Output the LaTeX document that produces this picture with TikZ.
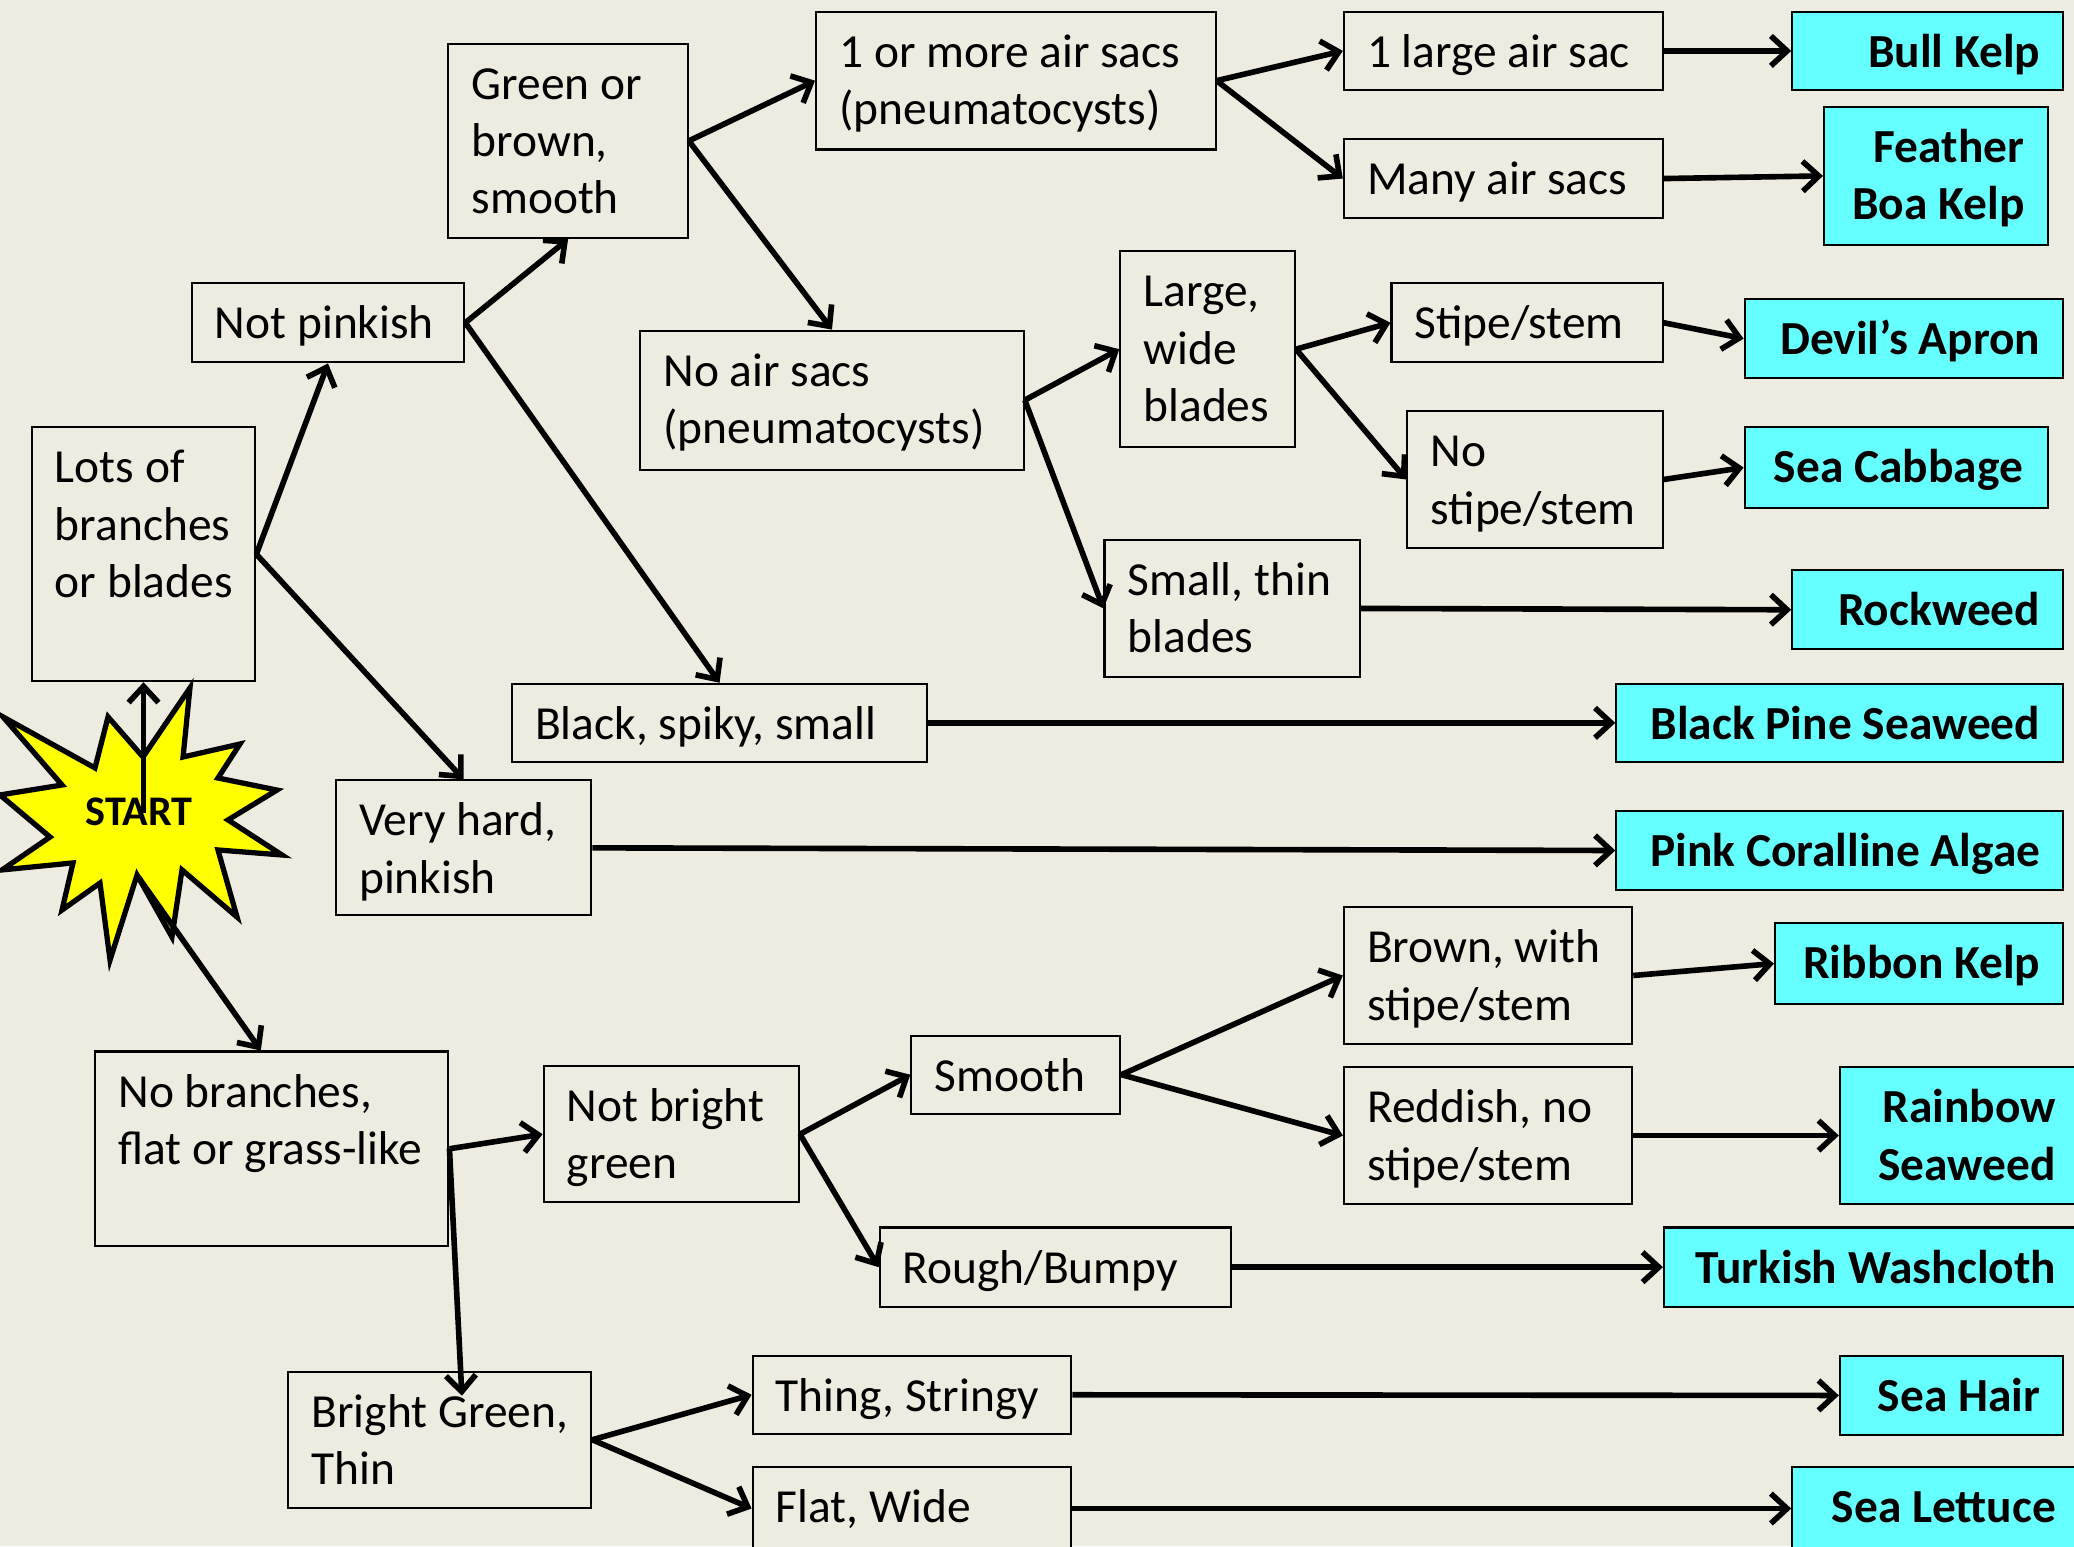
\documentclass[tikz,border=0pt]{standalone}
\usepackage{fontspec}
\setmainfont{Carlito}
\usetikzlibrary{arrows.meta,fit,calc}

\definecolor{paper}{HTML}{EEECE1}
\definecolor{kelp}{HTML}{66FFFF}
\definecolor{burst}{HTML}{FFFF00}

\tikzset{
  qbox/.style={draw=black, line width=0.6pt, fill=paper, inner sep=0pt},
  abox/.style={draw=black, line width=0.6pt, fill=kelp, inner sep=0pt},
  qtext/.style={inner sep=0pt, anchor=base west, font=\fontsize{13.5}{16.3}\selectfont},
  atext/.style={inner sep=0pt, anchor=base east, font=\fontsize{13.5}{16.3}\selectfont\bfseries},
  link/.style={line width=1.6pt, -{Straight Barb[length=4.6pt,width=8.5pt]}},
}

% question box: name, x1, y1, x2, y2, text (top-left aligned)
\newcommand\questionbox[6]{%
  \node[qbox, fit={(#2,#3) (#4,#5)}] (#1) {};
  \node[qtext] (#1-t) at (#2+17,#3+42) {\parbox[t]{10cm}{\raggedright #6}};
}
% answer box: name, x1, y1, x2, y2, right inset, text (top-right aligned)
\newcommand\answerbox[7]{%
  \node[abox, fit={(#2,#3) (#4,#5)}] (#1) {};
  \node[atext] (#1-t) at (#4-#6,#3+42) {\parbox[t]{10cm}{\raggedleft #7}};
}

\begin{document}
\begin{tikzpicture}[x=0.0132270cm, y=-0.0132270cm]
\useasboundingbox (0,0) rectangle (1568,1169);
\fill[paper] (0,0) rectangle (1568,1169);
\clip (0,0) rectangle (1568,1169);

% ---- decision boxes ----
\questionbox{lots}{24}{323}{193}{515}{Lots of\\branches\\or blades}
\questionbox{notpink}{145}{214}{351}{274}{Not pinkish}
\questionbox{green}{339}{33}{520}{180}{Green or\\brown,\\smooth}
\questionbox{airsacs}{617}{9}{919}{113}{1 or more air sacs\\(pneumatocysts)}
\questionbox{onesac}{1016}{9}{1257}{68}{1 large air sac}
\questionbox{manysacs}{1016}{105}{1257}{165}{Many air sacs}
\questionbox{noair}{484}{250}{774}{355}{No air sacs\\(pneumatocysts)}
\questionbox{largewide}{847}{190}{979}{338}{Large,\\wide\\blades}
\questionbox{stipe}{1052}{214}{1257}{274}{Stipe/stem}
\questionbox{nostipe}{1064}{311}{1257}{414}{No\\stipe/stem}
\questionbox{smallthin}{835}{408}{1028}{512}{Small, thin\\blades}
\questionbox{black}{387}{517}{701}{576}{Black, spiky, small}
\questionbox{veryhard}{254}{590}{447}{692}{Very hard,\\pinkish}
\questionbox{nobranch}{72}{795}{339}{942}{No branches,\\flat or grass-like}
\questionbox{notbright}{411}{806}{604}{909}{Not bright\\green}
\questionbox{smooth}{689}{783}{847}{842}{Smooth}
\questionbox{brownstipe}{1016}{686}{1234}{789}{Brown, with\\stipe/stem}
\questionbox{reddish}{1016}{807}{1234}{910}{Reddish, no\\stipe/stem}
\questionbox{rough}{665}{928}{931}{988}{Rough/Bumpy}
\questionbox{bright}{218}{1037}{447}{1140}{Bright Green,\\Thin}
\questionbox{stringy}{569}{1025}{810}{1084}{Thing, Stringy}
\questionbox{flatwide}{569}{1109}{810}{1172}{Flat, Wide}

% ---- seaweed names ----
\answerbox{bull}{1355}{9}{1560}{68}{17}{Bull Kelp}
\answerbox{boa}{1379}{81}{1548}{185}{17}{Feather\\Boa Kelp}
\answerbox{devil}{1319}{226}{1560}{286}{17}{Devil’s Apron}
\answerbox{cabbage}{1319}{323}{1548}{384}{18}{Sea Cabbage}
\answerbox{rockweed}{1355}{431}{1560}{491}{17}{Rockweed}
\answerbox{pine}{1222}{517}{1560}{576}{17}{Black Pine Seaweed}
\answerbox{coralline}{1222}{613}{1560}{673}{17}{Pink Coralline Algae}
\answerbox{ribbon}{1342}{698}{1560}{759}{17}{Ribbon Kelp}
\answerbox{rainbow}{1391}{807}{1572}{910}{17}{Rainbow\\Seaweed}
\answerbox{turkish}{1258}{928}{1572}{988}{17}{Turkish Washcloth}
\answerbox{seahair}{1391}{1025}{1560}{1085}{17}{Sea Hair}
\answerbox{lettuce}{1355}{1109}{1572}{1172}{17}{Sea Lettuce}

% ---- start burst ----
\filldraw[fill=burst, draw=black, line width=1.5pt, line join=miter, miter limit=10]
  (2.3,542) -- (71.8,580.6) -- (81.7,542) -- (108.1,572.3) -- (143.6,520.1)
  -- (138.4,572.3) -- (181.4,562.5) -- (164.8,588.2) -- (209.4,597.3)
  -- (172.4,619.9) -- (213.2,646.4) -- (164.8,642.6) -- (179.2,693.3)
  -- (137.6,657.7) -- (130,708.4) -- (103.6,661.5) -- (83.2,725.8)
  -- (75.6,667.6) -- (46.9,688) -- (55.2,652.4) -- (1.5,657.7)
  -- (37.8,632.8) -- (0,601) -- (46.9,593.5) -- cycle;
\node[inner sep=0pt, font=\fontsize{12}{14}\selectfont\bfseries] (start) at (105,614) {START};
\coordinate (startup) at (108.5,615);
\coordinate (startdown) at (104.5,663);

% ---- connectors ----
\draw[link] (startup) -- (lots.south);
\draw[link] (startdown) -- ($(nobranch.north west)+(126,0)$);

\draw[link] (lots.east) -- (notpink.south);
\draw[link] (lots.east) -- (veryhard.north);
\draw[link] (notpink.east) -- (green.south);
\draw[link] (notpink.east) -- (black.north);
\draw[link] (green.east) -- (airsacs.west);
\draw[link] (green.east) -- (noair.north);
\draw[link] (airsacs.east) -- (onesac.west);
\draw[link] (airsacs.east) -- (manysacs.west);
\draw[link] (onesac.east) -- (bull.west);
\draw[link] (manysacs.east) -- (boa.west);
\draw[link] (noair.east) -- (largewide.west);
\draw[link] (noair.east) -- (smallthin.west);
\draw[link] (largewide.east) -- (stipe.west);
\draw[link] (largewide.east) -- (nostipe.west);
\draw[link] (stipe.east) -- (devil.west);
\draw[link] (nostipe.east) -- (cabbage.west);
\draw[link] (smallthin.east) -- (rockweed.west);
\draw[link] (black.east) -- (pine.west);
\draw[link] (veryhard.east) -- (coralline.west);

\draw[link] (nobranch.east) -- (notbright.west);
\draw[link] (nobranch.east) -- ($(bright.north west)+(132,19)$);
\draw[link] (notbright.east) -- (smooth.west);
\draw[link] (notbright.east) -- (rough.west);
\draw[link] (smooth.east) -- (brownstipe.west);
\draw[link] (smooth.east) -- (reddish.west);
\draw[link] (brownstipe.east) -- (ribbon.west);
\draw[link] (reddish.east) -- (rainbow.west);
\draw[link] (rough.east) -- (turkish.west);
\draw[link] (bright.east) -- (stringy.west);
\draw[link] (bright.east) -- (flatwide.west);
\draw[link] (stringy.east) -- (seahair.west);
\draw[link] (flatwide.east) -- (lettuce.west);
\end{tikzpicture}
\end{document}
